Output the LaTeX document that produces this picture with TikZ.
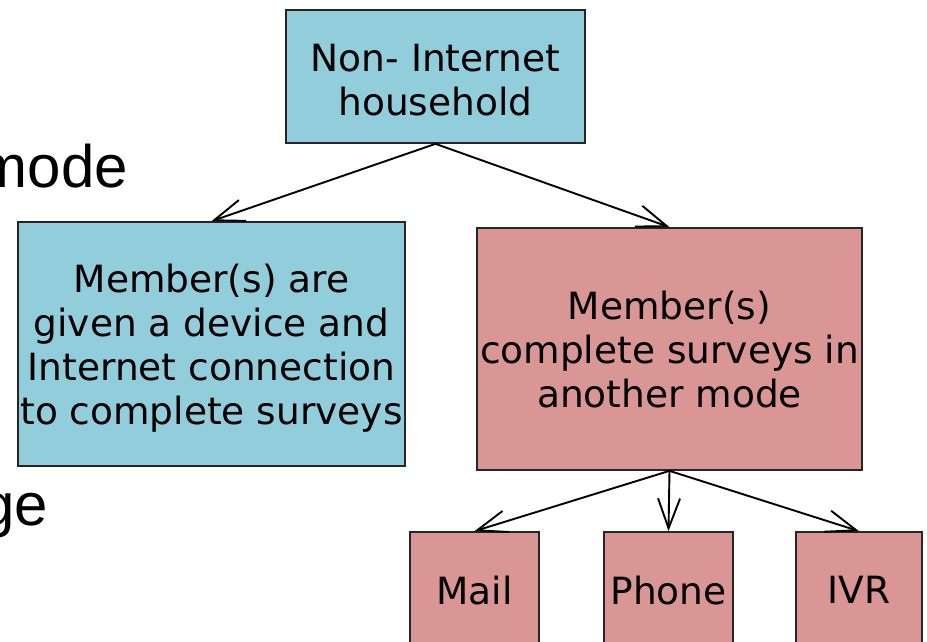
\documentclass[tikz,border=0pt]{standalone}
\usepackage{fontspec}
\setmainfont{DejaVu Sans}
\newfontfamily\slidefont{Liberation Sans}
\usetikzlibrary{arrows.meta}
\definecolor{boxblue}{HTML}{92CDDC}
\definecolor{boxred}{HTML}{D99694}
\begin{document}
\begin{tikzpicture}[x=1pt,y=-1pt,every text node part/.style={align=center},
	box/.style={draw=black!85, line width=1.7pt, inner sep=0pt, text depth=0pt, font=\fontsize{37.5}{44}\selectfont},
	bluebox/.style={box, fill=boxblue},
	redbox/.style={box, fill=boxred},
	slidetext/.style={anchor=base east, inner sep=0pt, font=\slidefont\fontsize{60}{70}\selectfont},
	link/.style={line width=1.9pt, -{Straight Barb[length=30pt,width=22pt]}}]
	\useasboundingbox (0,0) rectangle (927,641);

	% leftovers of the slide behind the chart
	\node[slidetext] (mode) at (128,187) {mode};
	\node[slidetext] (ge) at (48,525) {ge};

	\node[bluebox, minimum width=299pt, minimum height=133pt, text height=78pt] (home) at (435.5,76.5) {Non- Internet\\household};
	\node[bluebox, minimum width=387pt, minimum height=244pt] (device) at (211.5,344) {Member(s) are\\given a device and\\Internet connection\\to complete surveys};
	\node[redbox, minimum width=385pt, minimum height=242pt] (other) at (669.5,349) {Member(s)\\complete surveys in\\another mode};

	\node[redbox, minimum width=129pt, minimum height=116pt] (mail) at (474.5,590) {Mail};
	\node[redbox, minimum width=129pt, minimum height=116pt] (phone) at (668.5,590) {Phone};
	\node[redbox, minimum width=126pt, minimum height=116pt] (ivr) at (859,590) {IVR};

	\draw[link] (home.south) -- (device.north);
	\draw[link] (home.south) -- (other.north);
	\draw[link] (other.south) -- (mail.north);
	\draw[link] (other.south) -- (phone.north);
	\draw[link] (other.south) -- (ivr.north);

\end{tikzpicture}
\end{document}
